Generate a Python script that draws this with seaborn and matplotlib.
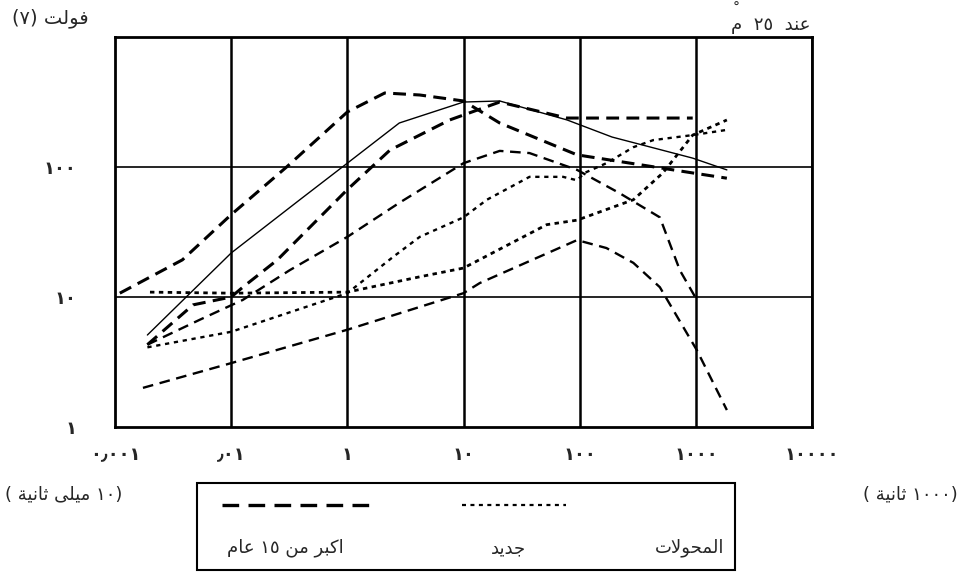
import re
import numpy as np
import pandas as pd
import matplotlib
matplotlib.use("Agg")
import matplotlib.pyplot as plt
from matplotlib.patches import Rectangle
from matplotlib.lines import Line2D
import seaborn as sns

# Chart data (log-log axes)
x_ticks = [0.001, 0.01, 0.1, 1, 10, 100, 1000]
x_tick_labels = ["٠٫٠٠١", "٫٠١", "١", "١٠", "١٠٠", "١٠٠٠", "١٠٠٠٠"]
y_ticks = [1, 10, 100]
y_tick_labels = ["١", "١٠", "١٠٠"]

# old transformers (bold / long dashes)
a_x = [0.0011, 0.0038, 0.01, 0.03, 0.1, 0.21, 0.42, 1.0, 2.05, 9.5, 94, 185]
a_y = [10.7, 19.3, 43, 100, 265, 371, 358, 322, 218, 124, 90, 82]
d_x = [0.0019, 0.0047, 0.01, 0.0126, 0.025, 0.1, 0.233, 0.76, 2.05, 7.8, 94]
d_y = [4.3, 8.7, 10, 11.9, 19.3, 67, 135, 230, 316, 238, 238]
e_x = [0.0019, 0.0054, 0.0126, 0.032, 0.1, 0.28, 1.0, 2.05, 3.7, 9.5, 22, 49, 73, 102]
e_y = [4.3, 6.7, 9.5, 16.1, 29, 53, 107, 133, 128, 95, 63, 41, 16, 9.5]
g_x = [0.00174, 0.01, 0.1, 1.0, 1.38, 9.5, 17, 29, 49, 102, 185]
g_y = [2.0, 3.1, 5.6, 10.7, 12.8, 27.4, 23.8, 18.3, 11.9, 3.9, 1.35]
# new transformers (short dashes)
b_x = [0.002, 0.01, 0.1, 0.42, 1.0, 5.2, 9.5, 29, 52, 94, 185]
b_y = [10.9, 10.7, 10.9, 14.3, 16.7, 36, 39, 56, 90, 176, 230]
c_x = [0.0019, 0.01, 0.1, 0.247, 0.42, 1.0, 1.59, 3.7, 7.2, 9.5, 11, 17, 29, 43, 94, 185]
c_y = [4.1, 5.4, 10.7, 20.3, 29, 41, 56, 84, 84, 79, 90, 107, 142, 161, 176, 193]
# solid reference curve
s_x = [0.0019, 0.01, 0.039, 0.1, 0.28, 1.0, 2.05, 7.8, 19, 94, 185]
s_y = [5.1, 21.8, 56, 107, 218, 316, 322, 230, 170, 117, 95]

y_label = "فولت (٧)"
temp_label = "عند  ٢٥  م"
x_left_label = "(١٠ ميلى ثانية )"
x_right_label = "(١٠٠٠ ثانية )"
legend_old = "اكبر من ١٥ عام"
legend_new = "جديد"
legend_title = "المحولات"

# --- minimal Arabic shaping (matplotlib has no text shaping / bidi) ---
FORMS = {
    'ا': (0xFE8D, 0xFE8E, None, None), 'ب': (0xFE8F, 0xFE90, 0xFE91, 0xFE92),
    'ت': (0xFE95, 0xFE96, 0xFE97, 0xFE98), 'ث': (0xFE99, 0xFE9A, 0xFE9B, 0xFE9C),
    'ج': (0xFE9D, 0xFE9E, 0xFE9F, 0xFEA0), 'ح': (0xFEA1, 0xFEA2, 0xFEA3, 0xFEA4),
    'د': (0xFEA9, 0xFEAA, None, None), 'ر': (0xFEAD, 0xFEAE, None, None),
    'ع': (0xFEC9, 0xFECA, 0xFECB, 0xFECC), 'ف': (0xFED1, 0xFED2, 0xFED3, 0xFED4),
    'ك': (0xFED9, 0xFEDA, 0xFEDB, 0xFEDC), 'ل': (0xFEDD, 0xFEDE, 0xFEDF, 0xFEE0),
    'م': (0xFEE1, 0xFEE2, 0xFEE3, 0xFEE4), 'ن': (0xFEE5, 0xFEE6, 0xFEE7, 0xFEE8),
    'ه': (0xFEE9, 0xFEEA, 0xFEEB, 0xFEEC), 'ة': (0xFE93, 0xFE94, None, None),
    'و': (0xFEED, 0xFEEE, None, None), 'ى': (0xFEEF, 0xFEF0, None, None),
    'ي': (0xFEF1, 0xFEF2, 0xFEF3, 0xFEF4), 'لا': (0xFEFB, 0xFEFC, None, None),
}
MIRROR = str.maketrans("()", ")(")


def shape(text):
    letters = []
    i = 0
    while i < len(text):
        if text[i] == 'ل' and i + 1 < len(text) and text[i + 1] == 'ا':
            letters.append('لا')
            i += 2
        else:
            letters.append(text[i])
            i += 1
    out = []
    for k, ch in enumerate(letters):
        if ch not in FORMS:
            out.append(ch)
            continue
        prev = letters[k - 1] if k > 0 else None
        nxt = letters[k + 1] if k + 1 < len(letters) else None
        iso, fin, ini, med = FORMS[ch]
        join_prev = prev in FORMS and FORMS[prev][2] is not None
        join_next = nxt in FORMS and ini is not None
        if join_prev and join_next:
            g = med
        elif join_prev:
            g = fin
        elif join_next:
            g = ini
        else:
            g = iso
        out.append(chr(g))
    return ''.join(out)


def rtl(text):
    runs = re.findall(r'[\u0660-\u066B0-9]+|[^\u0660-\u066B0-9]+', shape(text))
    out = []
    for r in reversed(runs):
        if re.match(r'[\u0660-\u066B0-9]', r):
            out.append(r)
        else:
            out.append(r[::-1].translate(MIRROR))
    return ''.join(out)


sns.set_style("white")
plt.rcParams['font.family'] = ['DejaVu Sans']

fig = plt.figure(figsize=(9.65, 5.76), dpi=100)
W, H = 965, 576
ax = fig.add_axes([115 / W, 1 - 427 / H, (812 - 115) / W, (427 - 37) / H])

curves = [
    (a_x, a_y, 2.2, (0, (4.2, 2.4))),
    (d_x, d_y, 2.2, (0, (4.2, 2.4))),
    (e_x, e_y, 1.7, (0, (4.5, 2.8))),
    (g_x, g_y, 1.7, (0, (4.5, 2.8))),
    (b_x, b_y, 2.0, (0, (1.6, 1.6))),
    (c_x, c_y, 1.7, (0, (1.8, 2.0))),
    (s_x, s_y, 1.0, '-'),
]
for cx, cy, lw, ls in curves:
    df = pd.DataFrame({'x': cx, 'y': cy})
    sns.lineplot(data=df, x='x', y='y', ax=ax, color='black', linewidth=lw,
                 linestyle=ls, estimator=None, sort=False)

ax.set_xscale('log')
ax.set_yscale('log')
ax.set_xlim(1e-3, 1e3)
ax.set_ylim(1, 1000)
ax.set_xticks(x_ticks)
ax.set_xticklabels(x_tick_labels, fontsize=13, fontweight='bold')
ax.set_yticks(y_ticks)
ax.set_yticklabels(y_tick_labels, fontsize=13, fontweight='bold')
ax.minorticks_off()
ax.tick_params(axis='both', length=0)
ax.tick_params(axis='x', pad=14)
ax.tick_params(axis='y', pad=28)
ax.set_xlabel('')
ax.set_ylabel('')
for xv in x_ticks[1:]:
    ax.axvline(xv, color='black', linewidth=1.8, zorder=0)
for yv in [10, 100]:
    ax.axhline(yv, color='black', linewidth=1.2, zorder=0)
for sp in ax.spines.values():
    sp.set_visible(True)
    sp.set_color('black')
    sp.set_linewidth(2)

# labels around the plot
fig.text(12 / W, 1 - 18 / H, rtl(y_label), fontsize=14, ha='left', va='center')
t = fig.text(810 / W, 1 - 25 / H, rtl(temp_label), fontsize=13, ha='right', va='center')
fig.canvas.draw()
bb = t.get_window_extent().transformed(fig.transFigure.inverted())
fig.text(bb.x0 + 6 / W, bb.y1 + 1 / H, "°", fontsize=10, ha='center', va='bottom')
fig.text(5 / W, 1 - 494 / H, rtl(x_left_label), fontsize=13, ha='left', va='center')
fig.text(958 / W, 1 - 494 / H, rtl(x_right_label), fontsize=13, ha='right', va='center')

# legend box
fig.patches.append(Rectangle((197 / W, 1 - 570 / H), (735 - 197) / W, (570 - 483) / H,
                             transform=fig.transFigure, fill=False,
                             edgecolor='black', linewidth=1.5))
fig.lines.append(Line2D([222 / W, 370 / W], [1 - 505 / H, 1 - 505 / H],
                        transform=fig.transFigure, color='black', linewidth=2.4,
                        linestyle=(0, (5, 2.8))))
fig.lines.append(Line2D([462 / W, 566 / W], [1 - 505 / H, 1 - 505 / H],
                        transform=fig.transFigure, color='black', linewidth=1.6,
                        linestyle=(0, (1.8, 2.0))))
fig.text(285 / W, 1 - 548 / H, rtl(legend_old), fontsize=13, ha='center', va='center')
fig.text(508 / W, 1 - 548 / H, rtl(legend_new), fontsize=13, ha='center', va='center')
fig.text(690 / W, 1 - 548 / H, rtl(legend_title), fontsize=13, ha='center', va='center')

fig.savefig('out.png', dpi=100, facecolor='white')
